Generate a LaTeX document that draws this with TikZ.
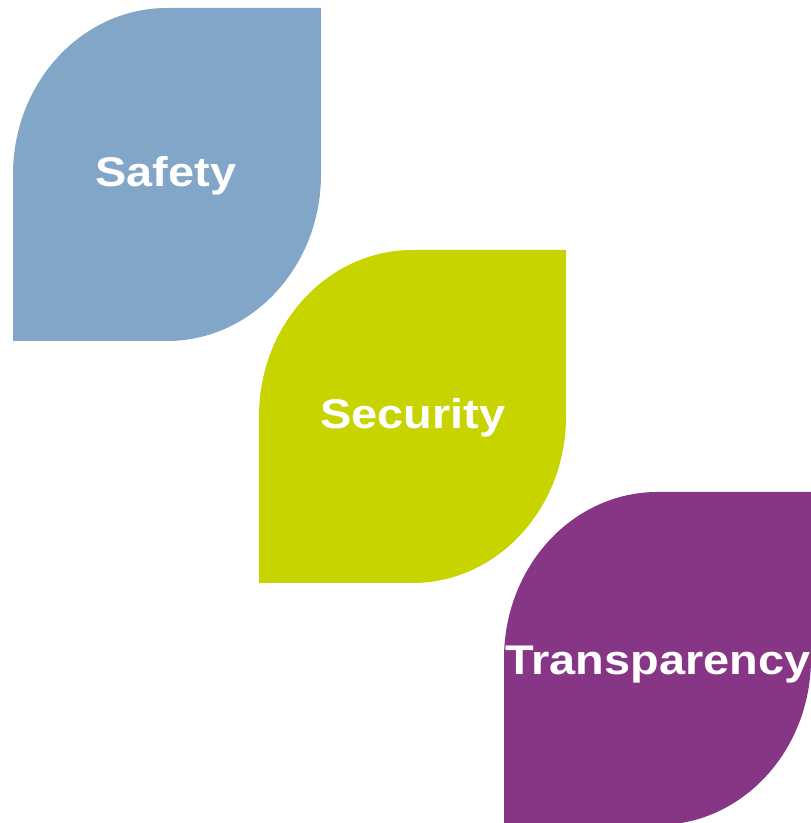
\documentclass[tikz,border=0pt]{standalone}
\usepackage{fontspec}
\setmainfont{Liberation Sans}
\definecolor{leafblue}{HTML}{82A6C7}
\definecolor{leafgreen}{HTML}{C8D400}
\definecolor{leafpurple}{HTML}{873686}
% #1 colour, #2 left x, #3 top y (page px, from top), #4 width, #5 height
\newcommand\leafshape[5]{%
  \fill[#1] (#2, 823-#3-#5) -- (#2, 823-#3-#5/2)
    arc[start angle=180, end angle=90, x radius=#4/2, y radius=#5/2]
    -- (#2+#4, 823-#3) -- (#2+#4, 823-#3-#5/2)
    arc[start angle=0, end angle=-90, x radius=#4/2, y radius=#5/2]
    -- cycle;}
\tikzset{leaflabel/.style={text=white, font=\bfseries\fontsize{41.5}{48}\selectfont,
  anchor=base, inner sep=0pt, xscale=1.13}}
\begin{document}
\begin{tikzpicture}[x=1pt, y=1pt]
\useasboundingbox (0,0) rectangle (811,823);
\clip (0,0) rectangle (811,823);
\leafshape{leafblue}{13}{8}{308}{333}
\leafshape{leafgreen}{259}{250}{307}{333}
\leafshape{leafpurple}{504}{492}{307}{333}
\node[leaflabel] (safety) at (166, 823-187) {Safety};
\node[leaflabel] (security) at (413, 823-429) {Security};
\node[leaflabel] (transparency) at (658, 823-675) {Transparency};
\end{tikzpicture}
\end{document}
